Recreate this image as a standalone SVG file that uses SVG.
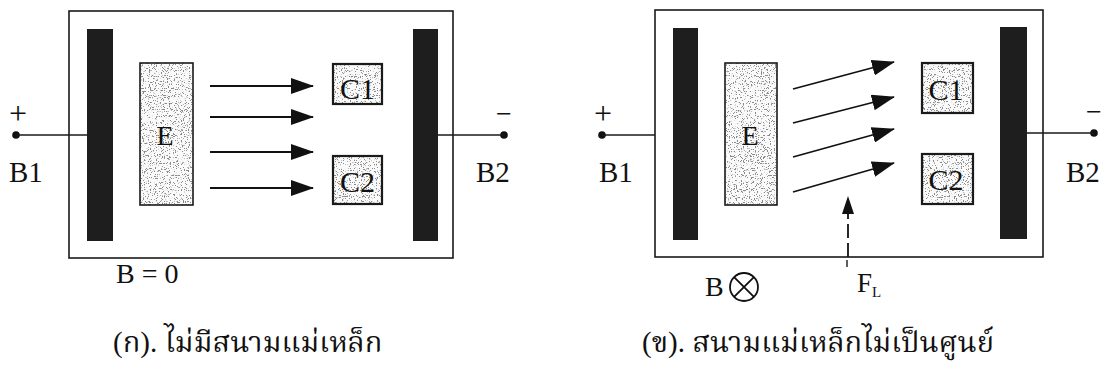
<svg xmlns="http://www.w3.org/2000/svg" width="1107" height="371" viewBox="0 0 1107 371">
  <style>
    .frame { fill: none; stroke: #1a1a1a; stroke-width: 1.6; }
    .plate { fill: #1e1e1e; }
    .grain { fill: #fafafa; filter: url(#speckle); }
    .edge { fill: none; stroke: #1a1a1a; stroke-width: 1.6; }
    .edge2 { fill: none; stroke: #1a1a1a; stroke-width: 2.2; }
    .lbl { font-family: "Liberation Serif", "Times New Roman", serif; fill: #111; }
    .wire { stroke: #1a1a1a; stroke-width: 1.4; }
    .beam { stroke: #111; stroke-width: 1.8; fill: none; marker-end: url(#head); }
    .force { stroke: #111; stroke-width: 1.8; fill: none; stroke-dasharray: 14 5; }
    .cap { font-family: "Liberation Serif", "Noto Serif Thai", "Noto Sans Thai", serif; fill: #111; }
  </style>
  <defs>
    <marker id="head" markerWidth="24" markerHeight="16" refX="22" refY="8" orient="auto" markerUnits="userSpaceOnUse">
      <path d="M0,0 L23,8 L0,16 Z" fill="#111"/>
    </marker>
    <!-- stippled fill for the emitter and collector blocks -->
    <filter id="speckle" x="0" y="0" width="1" height="1" filterUnits="objectBoundingBox">
      <feTurbulence type="fractalNoise" baseFrequency="0.85" numOctaves="3" seed="11" result="noise"/>
      <feColorMatrix in="noise" type="matrix" values="0 0 0 0 0.25  0 0 0 0 0.25  0 0 0 0 0.25  13 0 0 0 -7.6" result="dots"/>
      <feComposite in="dots" in2="SourceAlpha" operator="in" result="clipped"/>
      <feMerge><feMergeNode in="SourceGraphic"/><feMergeNode in="clipped"/></feMerge>
    </filter>
  </defs>

  <!-- (a) no magnetic field -->
  <g id="panel-a">
    <rect class="frame" x="69" y="11" width="384" height="247"/>
  </g>
  <g id="plate-b1-a"><rect class="plate" x="87" y="29" width="26" height="212"/></g>
  <g id="plate-b2-a"><rect class="plate" x="413" y="29" width="25" height="212"/></g>
  <g id="emitter-a">
    <rect class="grain" x="140" y="63" width="53" height="142"/>
    <rect class="edge" x="140" y="63" width="53" height="142"/>
    <text class="lbl" x="165" y="145" font-size="28" text-anchor="middle">E</text>
  </g>
  <g id="c1-a">
    <rect class="grain" x="333" y="64" width="49" height="40"/>
    <rect class="edge2" x="333" y="64" width="49" height="40"/>
    <text class="lbl" x="357.5" y="99" font-size="30" text-anchor="middle">C1</text>
  </g>
  <g id="c2-a">
    <rect class="grain" x="333" y="156" width="49" height="48"/>
    <rect class="edge2" x="333" y="156" width="49" height="48"/>
    <text class="lbl" x="357.5" y="192" font-size="30" text-anchor="middle">C2</text>
  </g>
  <g id="term-b1-a">
    <circle cx="16" cy="135" r="3.8" fill="#111"/>
    <text class="lbl" x="18" y="124" font-size="32" text-anchor="middle">+</text>
    <text class="lbl" x="9" y="182" font-size="29">B1</text>
  </g>
  <g id="term-b2-a">
    <circle cx="504" cy="135" r="3.8" fill="#111"/>
    <text class="lbl" x="504" y="123" font-size="28" text-anchor="middle">−</text>
    <text class="lbl" x="476" y="182" font-size="29">B2</text>
  </g>
  <g id="field-a">
    <text class="lbl" x="116" y="283" font-size="28">B = 0</text>
  </g>
  <g id="caption-a">
    <text class="cap" x="113" y="352" font-size="29">(ก). ไม่มีสนามแม่เหล็ก</text>
  </g>

  <!-- (b) non-zero magnetic field -->
  <g id="panel-b">
    <rect class="frame" x="655" y="10" width="388" height="247"/>
  </g>
  <g id="plate-b1-b"><rect class="plate" x="673" y="28" width="25" height="212"/></g>
  <g id="plate-b2-b"><rect class="plate" x="1000" y="27" width="27" height="212"/></g>
  <g id="emitter-b">
    <rect class="grain" x="725" y="63" width="52" height="142"/>
    <rect class="edge" x="725" y="63" width="52" height="142"/>
    <text class="lbl" x="750" y="145" font-size="28" text-anchor="middle">E</text>
  </g>
  <g id="c1-b">
    <rect class="grain" x="922" y="63" width="51" height="50"/>
    <rect class="edge2" x="922" y="63" width="51" height="50"/>
    <text class="lbl" x="946" y="100" font-size="30" text-anchor="middle">C1</text>
  </g>
  <g id="c2-b">
    <rect class="grain" x="922" y="154" width="51" height="50"/>
    <rect class="edge2" x="922" y="154" width="51" height="50"/>
    <text class="lbl" x="946" y="190" font-size="30" text-anchor="middle">C2</text>
  </g>
  <g id="term-b1-b">
    <circle cx="602" cy="135" r="3.8" fill="#111"/>
    <text class="lbl" x="603" y="124" font-size="32" text-anchor="middle">+</text>
    <text class="lbl" x="599" y="182" font-size="29">B1</text>
  </g>
  <g id="term-b2-b">
    <circle cx="1094" cy="133" r="3.8" fill="#111"/>
    <text class="lbl" x="1094" y="121" font-size="28" text-anchor="middle">−</text>
    <text class="lbl" x="1066" y="182" font-size="29">B2</text>
  </g>
  <g id="field-b">
    <text class="lbl" x="705" y="296" font-size="28">B</text>
    <circle cx="744" cy="287" r="14" fill="none" stroke="#111" stroke-width="1.8"/>
    <path d="M734.1,277.1 L753.9,296.9 M753.9,277.1 L734.1,296.9" stroke="#111" stroke-width="1.8"/>
  </g>
  <g id="force-label">
    <text class="lbl" x="857" y="292" font-size="27">F<tspan font-size="15" dy="5">L</tspan></text>
  </g>
  <g id="caption-b">
    <text class="cap" x="642" y="352" font-size="29">(ข). สนามแม่เหล็กไม่เป็นศูนย์</text>
  </g>

  <!-- wires, electron beams and Lorentz force -->
  <g id="connectors">
    <line class="wire" x1="16" y1="135" x2="87" y2="135"/>
    <line class="wire" x1="438" y1="135" x2="504" y2="135"/>
    <line class="wire" x1="602" y1="135" x2="655" y2="135"/>
    <line class="wire" x1="1027" y1="133" x2="1094" y2="133"/>

    <line class="beam" x1="210" y1="86" x2="313" y2="86"/>
    <line class="beam" x1="210" y1="117" x2="313" y2="117"/>
    <line class="beam" x1="210" y1="152" x2="313" y2="152"/>
    <line class="beam" x1="210" y1="188" x2="313" y2="188"/>

    <line class="beam" x1="793" y1="89" x2="894" y2="62"/>
    <line class="beam" x1="793" y1="123" x2="894" y2="97"/>
    <line class="beam" x1="793" y1="157" x2="894" y2="129"/>
    <line class="beam" x1="793" y1="192" x2="894" y2="163"/>

    <line class="force" x1="848" y1="257" x2="848" y2="212"/>
    <path d="M842,214 L848,196 L854,214 Z" fill="#111"/>
    <line class="wire" x1="847" y1="260" x2="847" y2="267"/>
  </g>
</svg>
